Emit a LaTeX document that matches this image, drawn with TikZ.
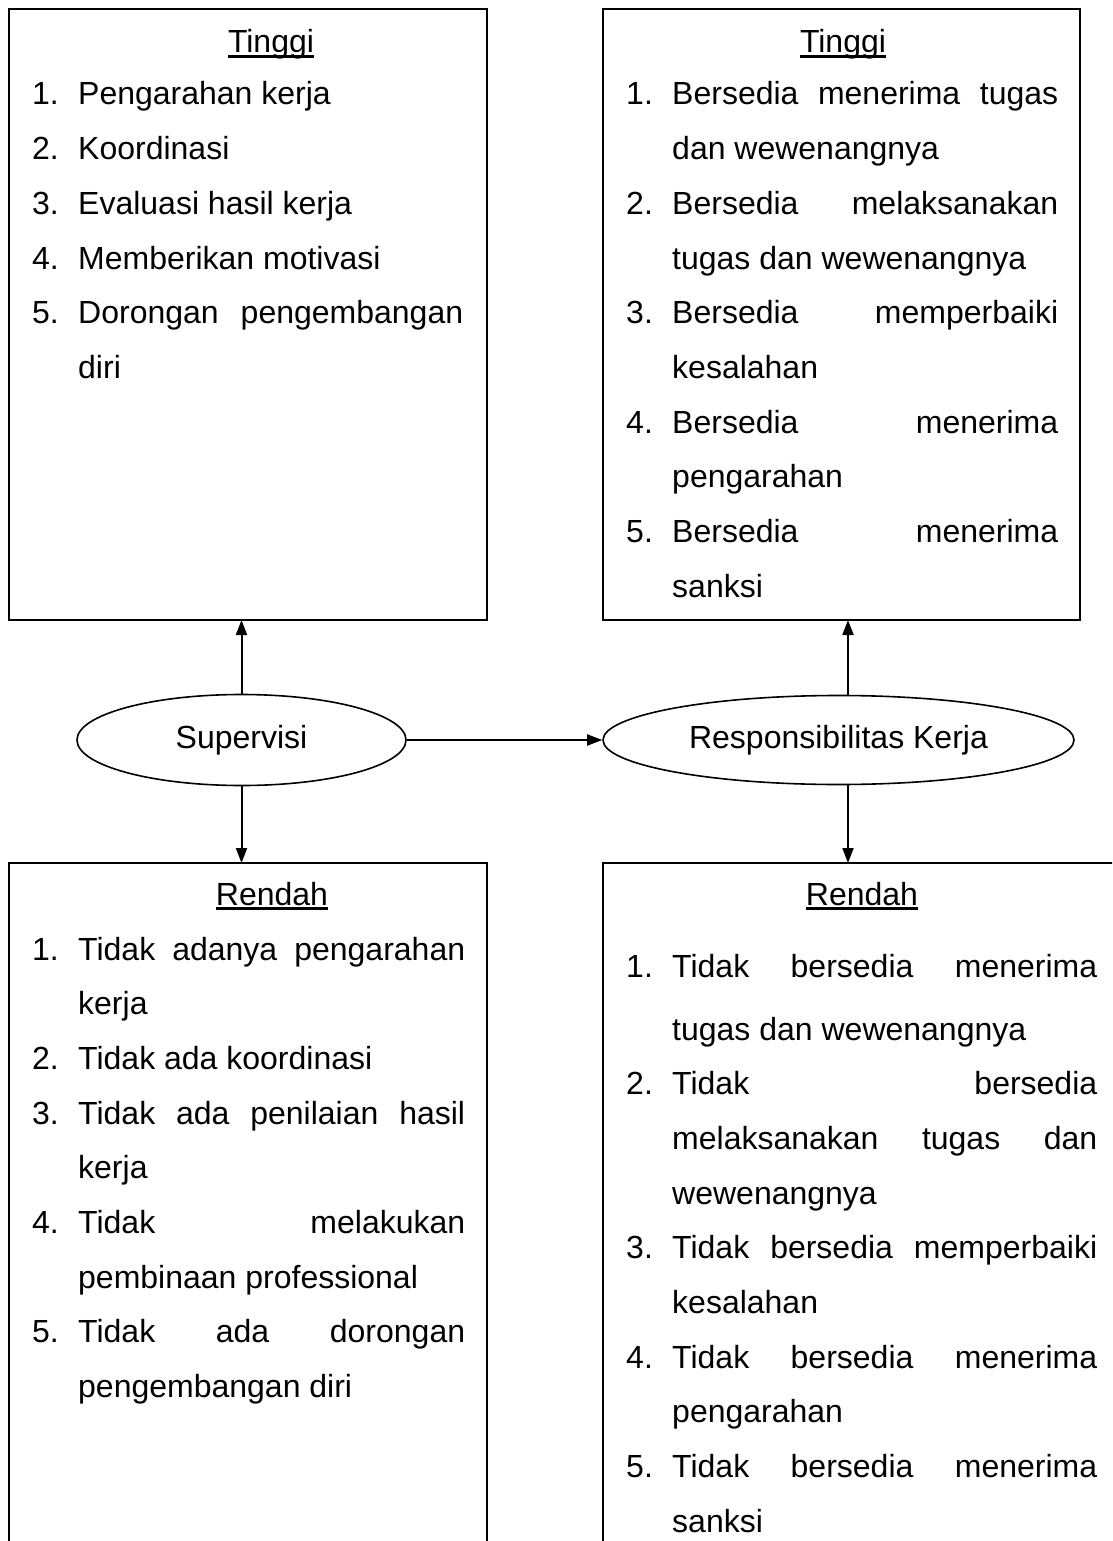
\documentclass[tikz,border=0pt]{standalone}
\usepackage{fontspec}
\setmainfont{Liberation Sans}
\usetikzlibrary{shapes.geometric,arrows.meta}
\newcommand\bodyfont{\fontsize{32}{40}\selectfont}
\newcommand\myul[1]{\setbox0\hbox{#1}\rlap{\rule[-4.6pt]{\wd0}{2.3pt}}\box0}
\newcommand\jst[2]{\makebox[#1][s]{#2}}
\begin{document}
\begin{tikzpicture}[x=1pt,y=-1pt,
  box/.style={draw, line width=2pt, anchor=north west, inner sep=0pt, outer sep=0pt},
  oval/.style={draw, ellipse, line width=1.6pt, inner sep=0pt, font=\bodyfont},
  txt/.style={anchor=base west, inner sep=0pt, font=\bodyfont},
  head/.style={anchor=base, inner sep=0pt, font=\bodyfont},
  arr/.style={line width=2pt, -{Triangle[length=15pt,width=11pt]}}]
\useasboundingbox (0,0) rectangle (1112,1541);
\clip (0,0) rectangle (1112,1541);
% boxes
\node[box, minimum width=478pt, minimum height=611pt] (tl) at (9,9) {};
\node[box, minimum width=477pt, minimum height=611pt] (tr) at (603,9) {};
\node[box, minimum width=478pt, minimum height=800pt] (bl) at (9,863) {};
\node[box, minimum width=530pt, minimum height=800pt] (br) at (603,863) {};
% ellipses
\node[oval, minimum width=329pt, minimum height=91pt] (sup) at (241.5,740) {Supervisi};
\node[oval, minimum width=471pt, minimum height=89pt] (resp) at (838.5,740) {Responsibilitas Kerja};
% connectors
\coordinate (ra) at (848,740);
\draw[arr] (sup.north) -- (sup.north |- tl.south);
\draw[arr] (sup.south) -- (sup.south |- bl.north);
\draw[arr] (sup.east) -- (resp.west);
\draw[arr] (ra |- resp.north) -- (ra |- tr.south);
\draw[arr] (ra |- resp.south) -- (ra |- br.north);
% top-left text
\node[head] (tlh) at (271,53) {\myul{Tinggi}};
\node[txt] (tl1n) at (32,105) {1.};
\node[txt] (tl1) at (78,105) {Pengarahan kerja};
\node[txt] (tl2n) at (32,159.7) {2.};
\node[txt] (tl2) at (78,159.7) {Koordinasi};
\node[txt] (tl3n) at (32,214.4) {3.};
\node[txt] (tl3) at (78,214.4) {Evaluasi hasil kerja};
\node[txt] (tl4n) at (32,269.1) {4.};
\node[txt] (tl4) at (78,269.1) {Memberikan motivasi};
\node[txt] (tl5n) at (32,323.8) {5.};
\node[txt] (tl5) at (78,323.8) {\jst{385pt}{Dorongan pengembangan}};
\node[txt] (tl5b) at (78,378.5) {diri};
% top-right text
\node[head] (trh) at (843,53) {\myul{Tinggi}};
\node[txt] (tr1n) at (626,105) {1.};
\node[txt] (tr1) at (672,105) {\jst{386pt}{Bersedia menerima tugas}};
\node[txt] (tr1b) at (672,159.7) {dan wewenangnya};
\node[txt] (tr2n) at (626,214.4) {2.};
\node[txt] (tr2) at (672,214.4) {\jst{386pt}{Bersedia melaksanakan}};
\node[txt] (tr2b) at (672,269.1) {tugas dan wewenangnya};
\node[txt] (tr3n) at (626,323.8) {3.};
\node[txt] (tr3) at (672,323.8) {\jst{386pt}{Bersedia memperbaiki}};
\node[txt] (tr3b) at (672,378.5) {kesalahan};
\node[txt] (tr4n) at (626,433.2) {4.};
\node[txt] (tr4) at (672,433.2) {\jst{386pt}{Bersedia menerima}};
\node[txt] (tr4b) at (672,487.9) {pengarahan};
\node[txt] (tr5n) at (626,542.6) {5.};
\node[txt] (tr5) at (672,542.6) {\jst{386pt}{Bersedia menerima}};
\node[txt] (tr5b) at (672,597.3) {sanksi};
% bottom-left text
\node[head] (blh) at (272,905) {\myul{Rendah}};
\node[txt] (bl1n) at (32,960) {1.};
\node[txt] (bl1) at (78,960) {\jst{387pt}{Tidak adanya pengarahan}};
\node[txt] (bl1b) at (78,1014.7) {kerja};
\node[txt] (bl2n) at (32,1069.4) {2.};
\node[txt] (bl2) at (78,1069.4) {Tidak ada koordinasi};
\node[txt] (bl3n) at (32,1124.1) {3.};
\node[txt] (bl3) at (78,1124.1) {\jst{387pt}{Tidak ada penilaian hasil}};
\node[txt] (bl3b) at (78,1178.8) {kerja};
\node[txt] (bl4n) at (32,1233.5) {4.};
\node[txt] (bl4) at (78,1233.5) {\jst{387pt}{Tidak melakukan}};
\node[txt] (bl4b) at (78,1288.2) {pembinaan professional};
\node[txt] (bl5n) at (32,1342.9) {5.};
\node[txt] (bl5) at (78,1342.9) {\jst{387pt}{Tidak ada dorongan}};
\node[txt] (bl5b) at (78,1397.6) {pengembangan diri};
% bottom-right text
\node[head] (brh) at (862,905) {\myul{Rendah}};
\node[txt] (br1n) at (626,977) {1.};
\node[txt] (br1) at (672,977) {\jst{425pt}{Tidak bersedia menerima}};
\node[txt] (br1b) at (672,1040) {tugas dan wewenangnya};
\node[txt] (br2n) at (626,1094.7) {2.};
\node[txt] (br2) at (672,1094.7) {\jst{425pt}{Tidak bersedia}};
\node[txt] (br2b) at (672,1149.4) {\jst{425pt}{melaksanakan tugas dan}};
\node[txt] (br2c) at (672,1204.1) {wewenangnya};
\node[txt] (br3n) at (626,1258.8) {3.};
\node[txt] (br3) at (672,1258.8) {\jst{425pt}{Tidak bersedia memperbaiki}};
\node[txt] (br3b) at (672,1313.5) {kesalahan};
\node[txt] (br4n) at (626,1368.2) {4.};
\node[txt] (br4) at (672,1368.2) {\jst{425pt}{Tidak bersedia menerima}};
\node[txt] (br4b) at (672,1422.9) {pengarahan};
\node[txt] (br5n) at (626,1477.6) {5.};
\node[txt] (br5) at (672,1477.6) {\jst{425pt}{Tidak bersedia menerima}};
\node[txt] (br5b) at (672,1532.3) {sanksi};
\end{tikzpicture}
\end{document}
